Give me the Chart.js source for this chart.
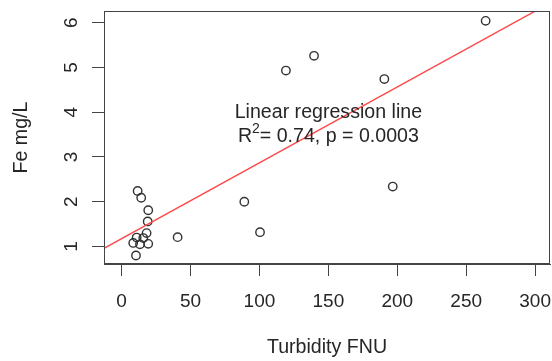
<!DOCTYPE html>
<html>
<head>
<meta charset="utf-8">
<script src="https://cdn.jsdelivr.net/npm/chart.js@4/dist/chart.umd.min.js"></script>
<style>
  html, body { margin: 0; padding: 0; background: #fff; }
  #wrap { width: 552px; height: 361px; }
</style>
</head>
<body>
<div id="wrap"><canvas id="c" width="552" height="361"></canvas></div>
<script>
// Observations (Turbidity FNU vs Fe mg/L)
const turbidity = [11.6, 14.2, 19.3, 18.9, 18.1, 10.9, 15.7, 8.4, 13.3, 19.3, 10.4, 40.6, 89, 100.4, 119.2, 139.6, 190.6, 196.7, 264.1];
const iron      = [2.24, 2.09, 1.81, 1.56, 1.30, 1.20, 1.19, 1.08, 1.05, 1.06, 0.80, 1.21, 2.00, 1.32, 4.93, 5.26, 4.74, 2.34, 6.04];

// Regression line end points
const lineX = [-12.8, 310.8];
const lineY = [0.96, 6.44];

// Axis ranges and ticks
const xRange = [-12.8, 310.8];
const yRange = [0.61, 6.26];
const xTicks = [0, 50, 100, 150, 200, 250, 300];
const yTicks = [1, 2, 3, 4, 5, 6];

// Annotation
const annoLine1 = "Linear regression line";
const annoR2 = "0.74";
const annoP = "0.0003";
const annoPos = { x: 150, y1: 4.0, y2: 3.45 };

const FONT = '"Liberation Sans", Arial, sans-serif';
const TXT = '#262626';
const LINE = '#444';
const FS = 19;     // tick labels
const FL = 19.6;   // titles and annotation

const points = turbidity.map((x, i) => ({ x: x, y: iron[i] }));
const regLine = lineX.map((x, i) => ({ x: x, y: lineY[i] }));

const framePlugin = {
  id: 'frame',
  afterDraw(chart) {
    const { ctx, chartArea: a, scales } = chart;
    ctx.save();
    // plot box
    ctx.strokeStyle = LINE;
    ctx.lineWidth = 1;
    ctx.strokeRect(Math.round(a.left) + 0.5, Math.round(a.top) + 0.5,
                   Math.round(a.right - a.left) - 1, Math.round(a.bottom - a.top) - 1);
    ctx.fillStyle = TXT;
    ctx.font = FS + 'px ' + FONT;
    ctx.textAlign = 'center';
    ctx.textBaseline = 'middle';
    // x tick labels
    xTicks.forEach(v => {
      ctx.fillText(String(v), scales.x.getPixelForValue(v), a.bottom + 38);
    });
    // y tick labels, rotated (R style)
    yTicks.forEach(v => {
      const py = scales.y.getPixelForValue(v);
      ctx.save();
      ctx.translate(72, py);
      ctx.rotate(-Math.PI / 2);
      ctx.fillText(String(v), 0, 0);
      ctx.restore();
    });
    // annotation
    const cx = scales.x.getPixelForValue(annoPos.x);
    const y1 = scales.y.getPixelForValue(annoPos.y1);
    const y2 = scales.y.getPixelForValue(annoPos.y2);
    ctx.font = FL + 'px ' + FONT;
    ctx.fillText(annoLine1, cx, y1);
    const part1 = 'R';
    const sup = '2';
    const part2 = '= ' + annoR2 + ', p = ' + annoP;
    const w1 = ctx.measureText(part1).width;
    const w3 = ctx.measureText(part2).width;
    ctx.font = Math.round(FL * 0.7) + 'px ' + FONT;
    const w2 = ctx.measureText(sup).width;
    const total = w1 + w2 + w3;
    let sx = cx - total / 2;
    ctx.textAlign = 'left';
    ctx.font = FL + 'px ' + FONT;
    ctx.fillText(part1, sx, y2);
    sx += w1;
    ctx.font = Math.round(FL * 0.7) + 'px ' + FONT;
    ctx.fillText(sup, sx, y2 - 8);
    sx += w2;
    ctx.font = FL + 'px ' + FONT;
    ctx.fillText(part2, sx, y2);
    ctx.restore();
  }
};

new Chart(document.getElementById('c'), {
  type: 'scatter',
  data: {
    datasets: [
      {
        type: 'line',
        data: regLine,
        borderColor: '#ff4a4a',
        borderWidth: 1.4,
        pointRadius: 0,
        fill: false,
        order: 0
      },
      {
        data: points,
        pointStyle: 'circle',
        pointRadius: 4.2,
        pointBorderWidth: 1.4,
        borderColor: '#333',
        backgroundColor: 'rgba(0,0,0,0)',
        pointBackgroundColor: 'rgba(0,0,0,0)',
        order: 1
      }
    ]
  },
  options: {
    responsive: false,
    animation: false,
    devicePixelRatio: 1,
    layout: { autoPadding: false, padding: { top: 11, right: 2, left: 0, bottom: 0 } },
    plugins: { legend: { display: false }, tooltip: { enabled: false } },
    scales: {
      x: {
        type: 'linear',
        min: xRange[0],
        max: xRange[1],
        afterFit(s) { s.height = 97; s.paddingLeft = 0; s.paddingRight = 0; },
        afterBuildTicks(s) { s.ticks = xTicks.map(v => ({ value: v })); },
        grid: { drawOnChartArea: false, drawTicks: true, tickLength: 12, color: LINE, lineWidth: 1 },
        border: { display: true, color: LINE, width: 1 },
        ticks: { display: false, includeBounds: false },
        title: {
          display: true,
          text: 'Turbidity FNU',
          font: { family: FONT, size: FL },
          color: TXT,
          padding: { top: 0, bottom: 1.4 }
        }
      },
      y: {
        type: 'linear',
        min: yRange[0],
        max: yRange[1],
        afterFit(s) { s.width = 104; s.paddingTop = 0; s.paddingBottom = 0; },
        afterBuildTicks(s) { s.ticks = yTicks.map(v => ({ value: v })); },
        grid: { drawOnChartArea: false, drawTicks: true, tickLength: 12, color: LINE, lineWidth: 1 },
        border: { display: true, color: LINE, width: 1 },
        ticks: { display: false, includeBounds: false },
        title: {
          display: true,
          text: 'Fe mg/L',
          font: { family: FONT, size: FL },
          color: TXT,
          padding: { top: 10, bottom: 0 }
        }
      }
    }
  },
  plugins: [framePlugin]
});
</script>
</body>
</html>
